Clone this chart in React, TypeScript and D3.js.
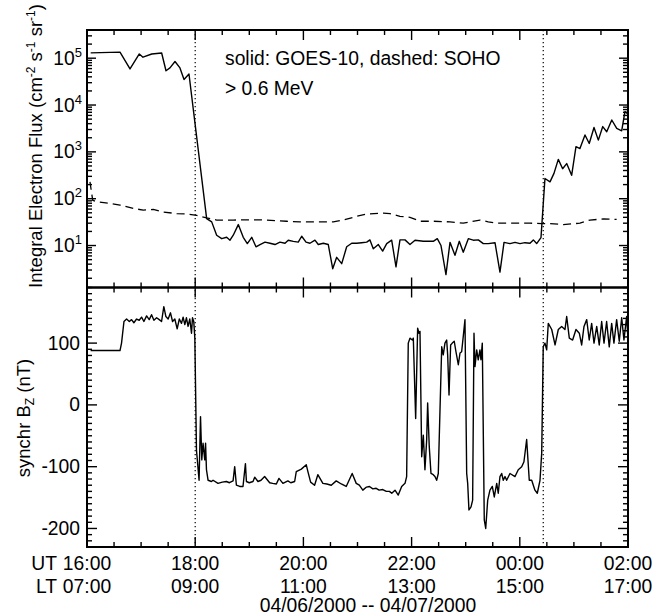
import React from 'react';
import * as d3 from 'd3';

const W = 665;
const H = 616;
const X0 = 87;
const X1 = 628;
const TOP0 = 30;
const MID = 287.5;
const BOT1 = 547;
const FONT = '"Liberation Sans", Arial, Helvetica, sans-serif';
const FS = 19.3;
const FS_TITLE = 18.5;

// time axis: minutes after 16:00 UT, 04/06/2000
const timeDomain = [0, 600];
const majorTickMinutes = [0, 120, 240, 360, 480, 600];
const utTickLabels = ['16:00', '18:00', '20:00', '22:00', '00:00', '02:00'];
const ltTickLabels = ['07:00', '09:00', '11:00', '13:00', '15:00', '17:00'];
const eventMinutes = [120, 506];
const dateLabel = '04/06/2000 -- 04/07/2000';
const annotation1 = 'solid: GOES-10, dashed: SOHO';
const annotation2 = '> 0.6 MeV';

// Top panel: integral electron flux
const fluxDomain = [1.27, 4.0e5];
const fluxTickPowers = [1, 2, 3, 4, 5];

const goesTime = [4.1, 36.6, 47.7, 58, 62.1, 71.8, 82.8, 87.6, 92, 97.6, 103.1, 107.6, 113.1, 132.7,
  138.3, 143.8, 149.4, 154.9, 158.6, 162.2, 167.8, 173.3, 177.8, 182.7, 187.4, 191.9, 197.4, 202.9,
  208.5, 214, 219.6, 223.2, 228.8, 234.3, 238.1, 242.9, 247.3, 252.8, 256.5, 262.1, 267.6, 272.5,
  276.9, 282.5, 288, 293.6, 299.1, 304.6, 310.2, 313.8, 317.5, 323.1, 327.9, 332.4, 337.9, 342.7,
  347.1, 352.7, 358.2, 363.8, 373, 384, 388.5, 392.6, 398.1, 402.6, 408.1, 412.9, 417.3, 422.9,
  428.4, 434, 439.5, 445, 452.5, 458, 462.5, 469.1, 474.7, 480.2, 485.7, 491.3, 495, 498.7, 503.5,
  507.9, 513.5, 517.9, 522.7, 527.5, 532, 537.5, 542.3, 546.7, 552.3, 557, 562.3, 567.1, 572,
  576.4, 582, 587.5, 593, 596.6, 599.2];
const goesFlux = [1.3e5, 1.35e5, 5.9e4, 1.23e5, 1.05e5, 1.23e5, 1.29e5, 5.4e4, 6.2e4, 8.5e4, 6.2e4, 3.5e4, 4.6e4, 37.6,
  32, 16.6, 14, 15, 13, 16.6, 28, 15, 11, 15, 9.4, 10.5, 11.8, 11.2,
  10.5, 11.8, 11.2, 13, 12.3, 11.8, 15.8, 11.8, 11.2, 13, 10.5, 11.2, 10.5, 3.2,
  5.6, 4.1, 9.4, 11.2, 11.2, 11.5, 11.8, 13.2, 8.5, 10.5, 7.6, 11, 13, 3.5,
  13.2, 13.2, 10.5, 13, 12.3, 12.3, 14, 10, 2.4, 11.7, 6.2, 12.3, 7.2, 14,
  13, 13.2, 11, 11, 11.5, 2.7, 11.7, 11, 11.7, 11, 11.5, 11.2, 13.2, 11, 14.8,
  270, 229, 347, 692, 437, 562, 316, 1290, 1175, 2290, 1510, 3310, 1780, 3470,
  2690, 4790, 3160, 2820, 7240, 6610];

const sohoTime = [3.3, 6.3, 10.8, 25.5, 36.6, 51.3, 62.4, 73.5, 84.6, 99.5, 110.6, 121.7, 132.7, 143.8,
  162.2, 180.8, 199.3, 221.5, 236.2, 254.7, 273.2, 284.2, 299.1, 310.2, 328.6, 336, 347.1, 358.2,
  369.3, 384, 402.6, 417.3, 435.8, 445, 454.4, 472.8, 491.3, 504.3, 513.5, 528.2, 546.7, 557.8,
  572.6, 587.4];
const sohoFlux = [229, 93, 86, 79, 73, 62, 57, 59, 52, 48, 47, 44, 39, 35,
  35, 35.5, 35, 33, 32, 32, 32, 35, 42, 47, 49, 48, 42, 40,
  33, 33, 32, 30, 35, 32, 30, 30, 30, 29.5, 29.5, 28, 30, 35,
  37, 36];

// Bottom panel: synchronous-orbit Bz (nT)
const bzDomain = [-230, 190];
const bzTicks = [-200, -100, 0, 100];

const bzTime = [4, 36.6, 38.3, 41, 43.9, 46.9, 49.4, 52, 55, 57.9, 60.5, 63.1, 66.1, 69, 71.6, 74.2, 77.2,
  80.1, 82.7, 85.2, 87.5, 90, 92.6, 94.9, 97.4, 100, 102.4, 104.8, 106.6, 108.5, 110.3, 112.1, 114,
  115.9, 117, 118.4, 119.6, 121.4, 124.3, 125.9, 127.3, 128.7, 130.6, 131.5, 132.5, 134.3, 138,
  139.8, 145.3, 150, 154.6, 158, 162, 163.8, 165.7, 169.4, 173, 175.7, 176.8, 180, 184.1, 186,
  189.6, 193, 197, 202.6, 206, 210, 212.9, 217.3, 222.8, 226, 230.3, 232.1, 237.7, 243.2, 245, 248,
  252.4, 256, 261.6, 266, 270.9, 276.4, 282, 287.5, 294.1, 298.6, 302, 305.9, 310, 313.3, 317,
  320.7, 324, 328, 332, 335.4, 338, 341.6, 345.2, 349, 352.7, 354.5, 356.3, 358.2, 360.8, 361.9,
  364.5, 366.7, 368.2, 369.3, 371.2, 373, 374.8, 376.7, 377.8, 379.6, 381.5, 384, 385.9, 387.8,
  389.6, 391.5, 393.4, 395.1, 397, 398.9, 400, 401.5, 403.3, 405.1, 407.3, 409.2, 411.8, 413.7,
  415.5, 417.3, 419.2, 421.1, 422.2, 423.6, 425.9, 427.7, 429.2, 430.3, 432.2, 433.9, 435.8,
  436.9, 438.4, 440.6, 442.2, 444.4, 446.9, 449.5, 451.7, 454.4, 456.1, 458, 459.9, 461.7, 463.6,
  465.4, 469.1, 474.7, 478.3, 482.1, 484.6, 487.6, 490.5, 493.2, 496.8, 499.4, 502.4, 504.3, 506,
  507.9, 509.8, 511.6, 515.4, 519.1, 522.7, 526.4, 530.1, 532, 534.9, 538.6, 542.3, 546, 548.6,
  551.2, 554.2, 557, 559.7, 562.3, 565.3, 568.1, 570.8, 573.4, 576.3, 579.2, 581.9, 584.4, 587.4,
  590.3, 593, 595.5, 598.5, 600];
const bzValue = [88, 88, 100, 135, 139, 135, 138, 133, 139, 137, 142, 135, 144, 138, 146, 137, 141,
  138, 135, 159, 143, 139, 149, 135, 139, 123, 139, 132, 142, 130, 141, 127, 139,
  116, 141, 135, 108, -73, -122, -19, -89, -62, -89, -62, -105, -122, -124,
  -122, -127, -125, -124, -126, -123, -100, -130, -132, -132, -95, -124, -126, -124, -117,
  -124, -122, -116, -126, -127, -128, -119, -127, -123, -126, -124, -108, -104, -97, -108, -125,
  -130, -113, -127, -128, -130, -123, -128, -132, -111, -127, -130, -138, -133, -132, -136,
  -135, -138, -137, -140, -140, -143, -138, -146, -132, -127, -116, 100, 108, 105, 108,
  -22, 124, 116, 119, -84, -49, -105, -57, 3, -68, -111, -113, -116, -122,
  -111, -8, 94, 81, 100, 105, 81, 16, 97, 100, 103, 86, 65, 84,
  86, 111, 138, -111, -127, -170, -165, -154, 116, 62, 89, 73, 89,
  73, 100, -186, -200, -154, -138, -132, -149, -127, -143, -116, -111, -122, -116,
  -122, -111, -116, -105, -100, -92, -56, -122, -122, -138, -143, -122, -78, 94,
  100, 89, 132, 122, 97, 122, 127, 122, 143, 108, 105, 122, 116, 97,
  127, 138, 105, 132, 100, 127, 97, 135, 100, 135, 94, 132, 100, 138,
  103, 141, 105, 143, 105];

export default function App() {
  const x = d3.scaleLinear().domain(timeDomain).range([X0, X1]);
  const yF = d3.scaleLog().domain(fluxDomain).range([MID, TOP0]);
  const yB = d3.scaleLinear().domain(bzDomain).range([BOT1, MID]);

  const goesPath = d3.line<number>().x((_, i) => x(goesTime[i])).y((d) => yF(d))(goesFlux) || '';
  const sohoPath = d3.line<number>().x((_, i) => x(sohoTime[i])).y((d) => yF(d))(sohoFlux) || '';
  const bzPath = d3.line<number>().x((_, i) => x(bzTime[i])).y((d) => yB(d))(bzValue) || '';

  const minorTimes = d3.range(timeDomain[0], timeDomain[1] + 1, 30);

  const logTicks: { v: number; major: boolean }[] = [];
  for (let p = 0; p <= 5; p++) {
    for (let k = 1; k <= 9; k++) {
      const v = k * Math.pow(10, p);
      if (v >= fluxDomain[0] && v <= fluxDomain[1]) logTicks.push({ v, major: k === 1 });
    }
  }
  const bzMinor = d3.range(-230, 191, 10);

  const tickStroke = { stroke: '#000', strokeWidth: 1.4 };
  const panels = [
    { y0: TOP0, y1: MID },
    { y0: MID, y1: BOT1 },
  ];

  return (
    <svg
      width={W}
      height={H}
      viewBox={`0 0 ${W} ${H}`}
      style={{ position: 'absolute', left: 0, top: 0, background: '#fff' }}
      fontFamily={FONT}
    >
      <rect x={0} y={0} width={W} height={H} fill="#fff" />

      {panels.map((p, pi) => (
        <g key={'xt' + pi}>
          {minorTimes.map((t) => {
            const major = t % 120 === 0;
            const len = major ? 10 : 5;
            return (
              <g key={t}>
                <line x1={x(t)} x2={x(t)} y1={p.y0} y2={p.y0 + len} {...tickStroke} />
                <line x1={x(t)} x2={x(t)} y1={p.y1} y2={p.y1 - len} {...tickStroke} />
              </g>
            );
          })}
        </g>
      ))}

      {logTicks.map((t, i) => {
        const len = t.major ? 9 : 5;
        const yy = yF(t.v);
        return (
          <g key={'lt' + i}>
            <line x1={X0} x2={X0 + len} y1={yy} y2={yy} {...tickStroke} />
            <line x1={X1} x2={X1 - len} y1={yy} y2={yy} {...tickStroke} />
          </g>
        );
      })}
      {fluxTickPowers.map((p) => (
        <text key={'fl' + p} x={X0 - 5} y={yF(Math.pow(10, p)) + 6.5} textAnchor="end" fontSize={FS}>
          10<tspan dy={-8} fontSize={13}>{p}</tspan>
        </text>
      ))}

      {bzMinor.map((v) => {
        const major = v % 100 === 0;
        const len = major ? 10 : 5;
        const yy = yB(v);
        return (
          <g key={'bt' + v}>
            <line x1={X0} x2={X0 + len} y1={yy} y2={yy} {...tickStroke} />
            <line x1={X1} x2={X1 - len} y1={yy} y2={yy} {...tickStroke} />
          </g>
        );
      })}
      {bzTicks.map((v) => (
        <text key={'bl' + v} x={X0 - 7} y={yB(v) + 6.5} textAnchor="end" fontSize={FS}>
          {v}
        </text>
      ))}

      {eventMinutes.map((m) => (
        <line key={'ev' + m} x1={x(m)} x2={x(m)} y1={TOP0} y2={BOT1} stroke="#000" strokeWidth={1.2} strokeDasharray="1.2,2.8" />
      ))}

      <path d={sohoPath} fill="none" stroke="#000" strokeWidth={1.3} strokeDasharray="8,5" />
      <path d={goesPath} fill="none" stroke="#000" strokeWidth={1.4} strokeLinejoin="round" />
      <path d={bzPath} fill="none" stroke="#000" strokeWidth={1.4} strokeLinejoin="round" />

      {panels.map((p, pi) => (
        <rect key={'fr' + pi} x={X0} y={p.y0} width={X1 - X0} height={p.y1 - p.y0} fill="none" stroke="#000" strokeWidth={2} />
      ))}

      <text x={225} y={65} fontSize={FS}>{annotation1}</text>
      <text x={225} y={95} fontSize={FS}>{annotation2}</text>

      {majorTickMinutes.map((m, i) => (
        <g key={'xl' + m}>
          <text x={x(m)} y={570} textAnchor="middle" fontSize={FS}>{utTickLabels[i]}</text>
          <text x={x(m)} y={593} textAnchor="middle" fontSize={FS}>{ltTickLabels[i]}</text>
        </g>
      ))}
      <text x={x(0) - 30} y={570} textAnchor="end" fontSize={FS}>UT</text>
      <text x={x(0) - 30} y={593} textAnchor="end" fontSize={FS}>LT</text>
      <text x={368} y={612} textAnchor="middle" fontSize={FS}>{dateLabel}</text>

      <text transform="translate(42,146) rotate(-90)" textAnchor="middle" fontSize={FS_TITLE}>
        Integral Electron Flux (cm<tspan dy={-7} fontSize={12}>-2</tspan>
        <tspan dy={7}> s</tspan><tspan dy={-7} fontSize={12}>-1</tspan>
        <tspan dy={7}> sr</tspan><tspan dy={-7} fontSize={12}>-1</tspan>
        <tspan dy={7}>)</tspan>
      </text>
      <text transform="translate(30,418) rotate(-90)" textAnchor="middle" fontSize={FS_TITLE}>
        synchr B<tspan dy={4} fontSize={12}>Z</tspan><tspan dy={-4}> (nT)</tspan>
      </text>
    </svg>
  );
}
